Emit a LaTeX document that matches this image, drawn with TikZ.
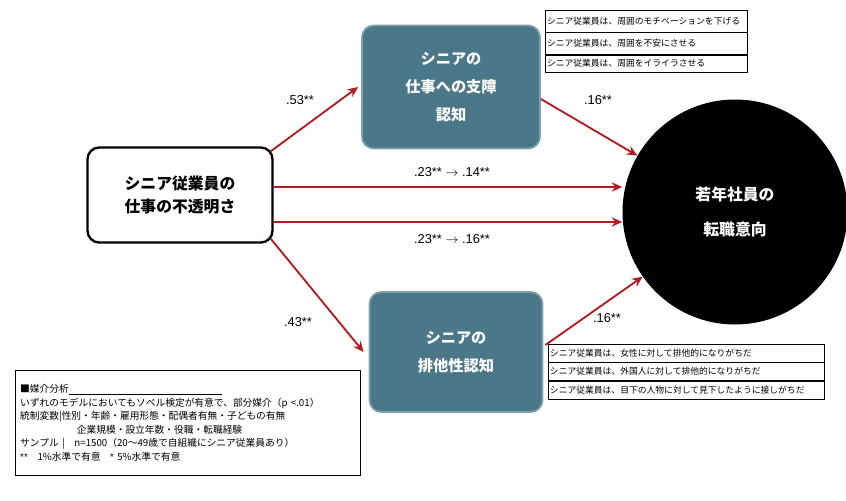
\documentclass[tikz,border=0pt]{standalone}
\usepackage{fontspec}
\setmainfont{Noto Sans CJK JP}
\newfontfamily\latinfont{Liberation Sans}
\usetikzlibrary{arrows.meta}
\usetikzlibrary{calc}
\definecolor{tealbox}{HTML}{4A7888}
\definecolor{darkred}{HTML}{B01E24}
\tikzset{
  path/.style = {darkred, line width=1.6pt, -{Stealth[length=9pt,width=8pt]}},
  medbox/.style = {draw=tealbox!70!white, fill=tealbox, rounded corners=10pt, line width=1.5pt,
    text=white, font=\fontsize{13pt}{24pt}\selectfont\bfseries, align=center},
  coef/.style = {font=\latinfont\fontsize{11pt}{13pt}\selectfont},
  item/.style = {draw, thin, anchor=west, inner sep=1.5pt, align=left, font=\fontsize{7.5pt}{8pt}\selectfont}
}
\begin{document}
\begin{tikzpicture}[x=0.03cm, y=-0.03cm]
            \useasboundingbox (0,0) rectangle (846,500);
            % boxes
            \node[draw, thick, line width=2pt, rounded corners=10pt, minimum width=185*0.03cm, minimum height=95*0.03cm,
              align=center, font=\fontsize{13.5pt}{19pt}\selectfont\bfseries] (opaque) at (180,195) {シニア従業員の\\仕事の不透明さ};
            \node[medbox, minimum width=178*0.03cm, minimum height=123*0.03cm] (hinder) at (451,87) {シニアの\\仕事への支障\\認知};
            \node[medbox, minimum width=173*0.03cm, minimum height=120*0.03cm] (exclude) at (456,352) {シニアの\\排他性認知};
            \node[circle, fill=black, minimum size=225*0.03cm, text=white, align=center,
              font=\fontsize{13.5pt}{30pt}\selectfont\bfseries] (turnover) at (735,212) {若年社員の\\転職意向};
            % paths
            \draw[path] ($(opaque.north east)+(-3,5)$) -- ($(hinder.west)+(-3,0)$);
            \draw[path] ($(opaque.south east)+(-3,-5)$) -- ($(exclude.west)+(-5,0)$);
            \draw[path] ($(hinder.east)+(0,12)$) -- (turnover.150);
            \draw[path] ($(exclude.east)+(2,-7)$) -- (turnover.215);
            \draw[path] ($(opaque.east)+(0,-8)$) coordinate (d1) -- (d1 -| turnover.west);
            \draw[path] ($(opaque.east)+(0,27)$) coordinate (d2) -- (d2 -| turnover.west);
            % coefficients
            \node[coef] (ca) at (300,100) {.53**};
            \node[coef] (cb) at (598,100) {.16**};
            \node[coef] (cc) at (452,172) {.23** $\rightarrow$ .14**};
            \node[coef] (cd) at (452,239) {.23** $\rightarrow$ .16**};
            \node[coef] (ce) at (298,322) {.43**};
            \node[coef] (cf) at (607,318) {.16**};
            % items
            \node[item, text width=198*0.03cm, minimum height=22*0.03cm] (t1) at (545,21) {シニア従業員は、周囲のモチベーションを下げる};
            \node[item, text width=198*0.03cm, minimum height=22*0.03cm, anchor=north west] (t2) at (t1.south west) {シニア従業員は、周囲を不安にさせる};
            \node[item, text width=198*0.03cm, minimum height=17*0.03cm, anchor=north west] (t3) at (t2.south west) {シニア従業員は、周囲をイライラさせる};
            \node[item, text width=272*0.03cm, minimum height=18*0.03cm] (b1) at (548,353) {シニア従業員は、女性に対して排他的になりがちだ};
            \node[item, text width=272*0.03cm, minimum height=18*0.03cm, anchor=north west] (b2) at (b1.south west) {シニア従業員は、外国人に対して排他的になりがちだ};
            \node[item, text width=272*0.03cm, minimum height=18*0.03cm, anchor=north west] (b3) at (b2.south west) {シニア従業員は、目下の人物に対して見下したように接しがちだ};
            % note
            \node[draw, thin, anchor=north west, minimum width=345*0.03cm, minimum height=105*0.03cm, align=left,
              inner sep=4pt, font=\fontsize{8.3pt}{11.5pt}\selectfont, text width=335*0.03cm] (note) at (15,370)
              {■媒介分析\underline{\hspace{4.6cm}}\\
               いずれのモデルにおいてもソベル検定が有意で、部分媒介（p \textless.01）\\
               統制変数|性別・年齢・雇用形態・配偶者有無・子どもの有無\\
               \hspace{1.7cm}企業規模・設立年数・役職・転職経験\\
               サンプル |\quad n=1500（20～49歳で自組織にシニア従業員あり）\\
               {\latinfont **}\quad 1\%水準で有意\quad {\latinfont *} 5\%水準で有意};
\end{tikzpicture}
\end{document}
